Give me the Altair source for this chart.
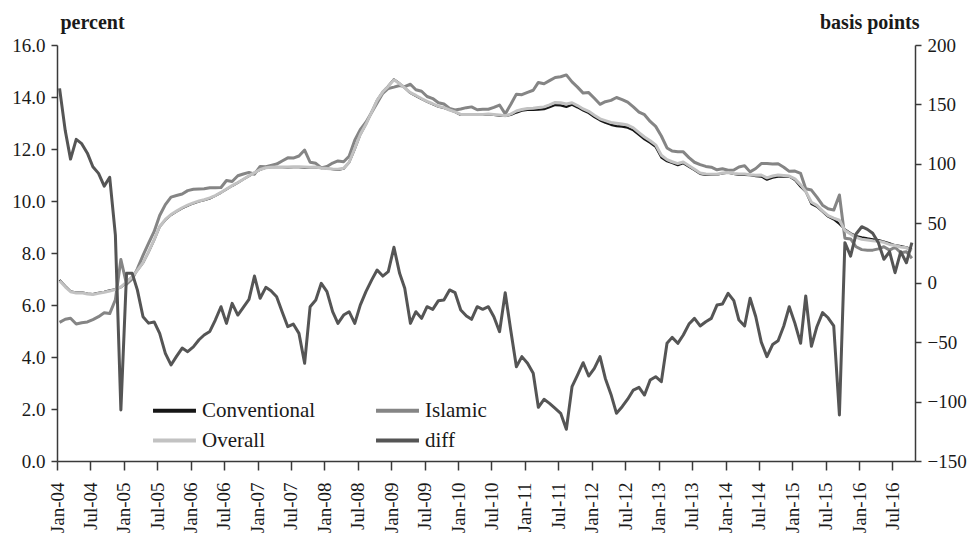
import altair as alt
import pandas as pd

# ---------------- data (monthly, Jan-04 .. Oct-16) ----------------
first_month = "2004-01-01"
n_months = 154

conventional = [
    6.96, 6.73, 6.53, 6.48, 6.49, 6.44, 6.42, 6.47, 6.51, 6.56, 6.60, 6.68,
    6.88, 7.08, 7.33, 7.62, 8.03, 8.50, 9.01, 9.27, 9.46, 9.59, 9.72, 9.82,
    9.91, 9.98, 10.03, 10.10, 10.20, 10.32, 10.45, 10.58, 10.70, 10.83, 10.96, 11.09,
    11.20, 11.28, 11.30, 11.30, 11.30, 11.29, 11.30, 11.30, 11.28, 11.29, 11.30, 11.27,
    11.25, 11.22, 11.20, 11.24, 11.48, 12.00, 12.55, 12.95, 13.42, 13.88, 14.20, 14.42,
    14.68, 14.52, 14.35, 14.15, 14.04, 13.92, 13.82, 13.72, 13.63, 13.58, 13.50, 13.42,
    13.31, 13.31, 13.31, 13.31, 13.31, 13.33, 13.31, 13.28, 13.27, 13.31, 13.40, 13.47,
    13.50, 13.50, 13.51, 13.53, 13.61, 13.69, 13.68, 13.62, 13.70, 13.60, 13.48, 13.38,
    13.23, 13.10, 13.01, 12.93, 12.88, 12.86, 12.82, 12.72, 12.54, 12.37, 12.24, 12.08,
    11.67, 11.53, 11.46, 11.38, 11.45, 11.32, 11.19, 11.04, 11.00, 11.00, 11.01, 11.06,
    11.09, 11.04, 11.00, 11.00, 10.99, 10.96, 10.94, 10.82, 10.90, 10.94, 10.94, 10.94,
    10.81, 10.55, 10.36, 9.88, 9.78, 9.59, 9.40, 9.29, 9.12, 8.91, 8.76, 8.65,
    8.60, 8.56, 8.53, 8.50, 8.44, 8.37, 8.30, 8.27, 8.22, 8.14,
]

islamic = [
    5.33, 5.45, 5.49, 5.27, 5.32, 5.35, 5.44, 5.55, 5.70, 5.67, 6.20, 7.75,
    6.80, 7.00, 7.39, 7.91, 8.37, 8.83, 9.44, 9.86, 10.15, 10.21, 10.27, 10.40,
    10.45, 10.46, 10.47, 10.51, 10.51, 10.52, 10.79, 10.75, 10.97, 11.04, 11.10, 11.03,
    11.33, 11.32, 11.37, 11.42, 11.54, 11.66, 11.65, 11.73, 11.96, 11.49, 11.45, 11.27,
    11.33, 11.46, 11.54, 11.51, 11.72, 12.34, 12.74, 13.03, 13.40, 13.77, 14.14, 14.33,
    14.38, 14.44, 14.40, 14.49, 14.28, 14.22, 14.02, 13.94, 13.78, 13.73, 13.56, 13.50,
    13.54, 13.59, 13.62, 13.51, 13.53, 13.53, 13.60, 13.69, 13.35, 13.71, 14.11, 14.09,
    14.18, 14.26, 14.56, 14.51, 14.63, 14.75, 14.78, 14.85, 14.58, 14.38, 14.15, 14.17,
    13.95, 13.72, 13.82, 13.87, 13.98, 13.90, 13.80, 13.62, 13.42, 13.32, 13.06, 12.87,
    12.50, 12.04, 11.92, 11.89, 11.89, 11.67, 11.49, 11.40, 11.33, 11.30, 11.20, 11.24,
    11.18, 11.19, 11.31, 11.36, 11.12, 11.25, 11.44, 11.44, 11.42, 11.43, 11.30, 11.14,
    11.15, 11.06, 10.47, 10.42, 10.15, 9.84, 9.70, 9.65, 10.23, 8.57, 8.54, 8.24,
    8.13, 8.11, 8.11, 8.16, 8.24, 8.11, 8.22, 8.01, 8.05, 7.80,
]

overall = [
    6.93, 6.70, 6.51, 6.46, 6.47, 6.42, 6.40, 6.45, 6.49, 6.54, 6.59, 6.70,
    6.88, 7.08, 7.33, 7.63, 8.04, 8.51, 9.02, 9.29, 9.48, 9.61, 9.74, 9.84,
    9.93, 10.00, 10.05, 10.12, 10.21, 10.33, 10.46, 10.59, 10.71, 10.84, 10.97, 11.09,
    11.21, 11.28, 11.30, 11.31, 11.31, 11.31, 11.32, 11.32, 11.31, 11.30, 11.31, 11.27,
    11.25, 11.23, 11.22, 11.26, 11.49, 12.02, 12.56, 12.95, 13.42, 13.87, 14.20, 14.41,
    14.66, 14.51, 14.35, 14.17, 14.06, 13.94, 13.83, 13.74, 13.64, 13.59, 13.50, 13.43,
    13.33, 13.33, 13.33, 13.33, 13.33, 13.35, 13.33, 13.31, 13.28, 13.34, 13.46, 13.52,
    13.56, 13.57, 13.60, 13.62, 13.70, 13.79, 13.78, 13.73, 13.78, 13.67, 13.54, 13.45,
    13.30, 13.16, 13.09, 13.02, 12.99, 12.96, 12.92, 12.81, 12.63, 12.46, 12.32, 12.16,
    11.76, 11.59, 11.51, 11.44, 11.50, 11.36, 11.22, 11.08, 11.04, 11.03, 11.03, 11.08,
    11.10, 11.06, 11.04, 11.04, 11.01, 10.99, 11.00, 10.89, 10.96, 11.00, 10.98, 10.96,
    10.85, 10.62, 10.37, 9.95, 9.83, 9.62, 9.44, 9.34, 9.26, 8.87, 8.73, 8.60,
    8.53, 8.50, 8.47, 8.45, 8.41, 8.33, 8.29, 8.23, 8.20, 8.09,
]

diff_bp = [
    163.5, 128, 104, 120.6, 117, 109, 97.6, 92, 81.3, 88.7, 40, -107,
    7.9, 7.9, -6, -28.6, -34, -33, -42.6, -59.4, -69.2, -62, -55, -58,
    -54, -48, -44, -41, -31.4, -20.2, -34.2, -17.4, -27.2, -20.7, -14, 5.6,
    -13.1, -3.9, -6.7, -11.8, -24.4, -37, -34.8, -42.6, -67.8, -20.2, -14.6, -0.5,
    -7.5, -24.4, -34.2, -27.2, -24.4, -34.2, -18.8, -7.5, 2.2, 10.7, 5.6, 9.3,
    29.8, 7.9, -4.7, -34.2, -24.4, -30, -20.2, -22.4, -15.1, -14.6, -6.1, -8.4,
    -23, -28, -30.8, -20.2, -22.4, -20.2, -28.6, -41.2, -8.4, -39.8, -70.7, -62.2,
    -67.8, -76.2, -104.8, -98.1, -101.5, -105.7, -109.9, -123.3, -87.5, -77.7, -67.3, -78.5,
    -72, -62.2, -80.5, -94, -109.9, -104.3, -98, -90.3, -88, -94.5, -81.9, -79.1,
    -83.3, -51, -46, -51, -44, -34.8, -30, -36.4, -32.8, -30, -18.8, -17.9,
    -8.9, -15.1, -31.4, -36.4, -13.1, -28.6, -50, -62.2, -52, -48.8, -36.4, -20.2,
    -34.2, -51, -11.2, -53.5, -37, -25.2, -29.5, -36.4, -111.3, 33.7, 22.4, 41,
    47.1, 44.9, 41.6, 33.7, 19.7, 26.1, 8.4, 26.1, 16.8, 33.7,
]

# legend order (column-major fill): Conventional / Overall | Islamic / diff
legend_order = ["Conventional", "Overall", "Islamic", "diff"]
legend_colors = ["#161616", "#c2c2c2", "#858585", "#555555"]

left_ticks = [0, 2, 4, 6, 8, 10, 12, 14, 16]
right_ticks = [-150, -100, -50, 0, 50, 100, 150, 200]
tick_years = list(range(2004, 2017))
tick_months = [1, 7]

# ---------------- table ----------------
dates = pd.date_range(first_month, periods=n_months, freq="MS") + pd.Timedelta(days=14)
wide = pd.DataFrame({
    "date": dates.strftime("%Y-%m-%d"),
    "Conventional": conventional,
    "Islamic": islamic,
    "Overall": overall,
    "diff": diff_bp,
})
long = wide.melt(id_vars="date", var_name="series", value_name="value")

FONT = "Liberation Serif"
AX = "#3a3a3a"

x_ticks = [alt.DateTime(year=y, month=m, date=1, utc=True)
           for y in tick_years for m in tick_months]  # Jan-04 .. Jul-16

x_enc = alt.X(
    "date:T",
    scale=alt.Scale(type="utc",
                    domain=[alt.DateTime(year=2004, month=1, date=1, utc=True),
                            alt.DateTime(year=2016, month=11, date=1, utc=True)]),
    axis=alt.Axis(values=x_ticks, labelExpr="utcFormat(datum.value, '%b-%y')",
                  labelAngle=-90, labelOverlap=False, labelFlush=False,
                  tickSize=9, labelPadding=12, title=None, grid=False, labelBound=False),
)

color_enc = alt.Color(
    "series:N",
    scale=alt.Scale(domain=legend_order, range=legend_colors),
    legend=alt.Legend(
        title=None, orient="none", legendX=93, legendY=355, columns=2,
        symbolType="M-3,0H3", symbolSize=205, symbolStrokeWidth=4,
        symbolOffset=14, labelOffset=17, columnPadding=52, rowPadding=8,
        labelFont=FONT, labelFontSize=21, labelColor="#1a1a1a", padding=0,
        labelLimit=300,
    ),
)

left_axis = alt.Axis(values=left_ticks, format=".1f", tickSize=6, labelPadding=6,
                     grid=False, title="percent", titleAngle=0, titleAlign="left",
                     titleBaseline="alphabetic", titleX=3, titleY=-17,
                     titleFont=FONT, titleFontSize=20, titleFontWeight="bold",
                     titleColor="#1a1a1a")
right_axis = alt.Axis(values=right_ticks, format="d", orient="right", tickSize=6,
                      labelPadding=6, grid=False, title="basis points", titleAngle=0,
                      titleAlign="right", titleBaseline="alphabetic", titleX=4, titleY=-17,
                      titleFont=FONT, titleFontSize=20, titleFontWeight="bold",
                      titleColor="#1a1a1a")

base = alt.Chart(long)


def left_line(name, width):
    return base.transform_filter(alt.datum.series == name).mark_line(
        strokeWidth=width, strokeJoin="round"
    ).encode(
        x=x_enc,
        y=alt.Y("value:Q", scale=alt.Scale(domain=[0, 16], nice=False, zero=False), axis=left_axis),
        color=color_enc,
    )


left = alt.layer(
    left_line("Conventional", 2.2),
    left_line("Islamic", 3),
    left_line("Overall", 3),
)

right = base.transform_filter(alt.datum.series == "diff").mark_line(
    strokeWidth=3, strokeJoin="round"
).encode(
    x=x_enc,
    y=alt.Y("value:Q", scale=alt.Scale(domain=[-150, 200], nice=False, zero=False), axis=right_axis),
    color=color_enc,
)

chart = alt.layer(left, right).resolve_scale(y="independent").properties(
    width=858, height=416,
    autosize=alt.AutoSizeParams(type="none"),
    padding={"left": 49, "top": 37, "right": 52, "bottom": 80},
    background="white",
).configure_view(stroke=None).configure_axis(
    labelFont=FONT, labelFontSize=19, labelColor="#1a1a1a",
    domainColor=AX, tickColor=AX, domainWidth=1.5, tickWidth=1.5,
)

chart.save("out.html", embed_options={"renderer": "svg", "actions": False})
